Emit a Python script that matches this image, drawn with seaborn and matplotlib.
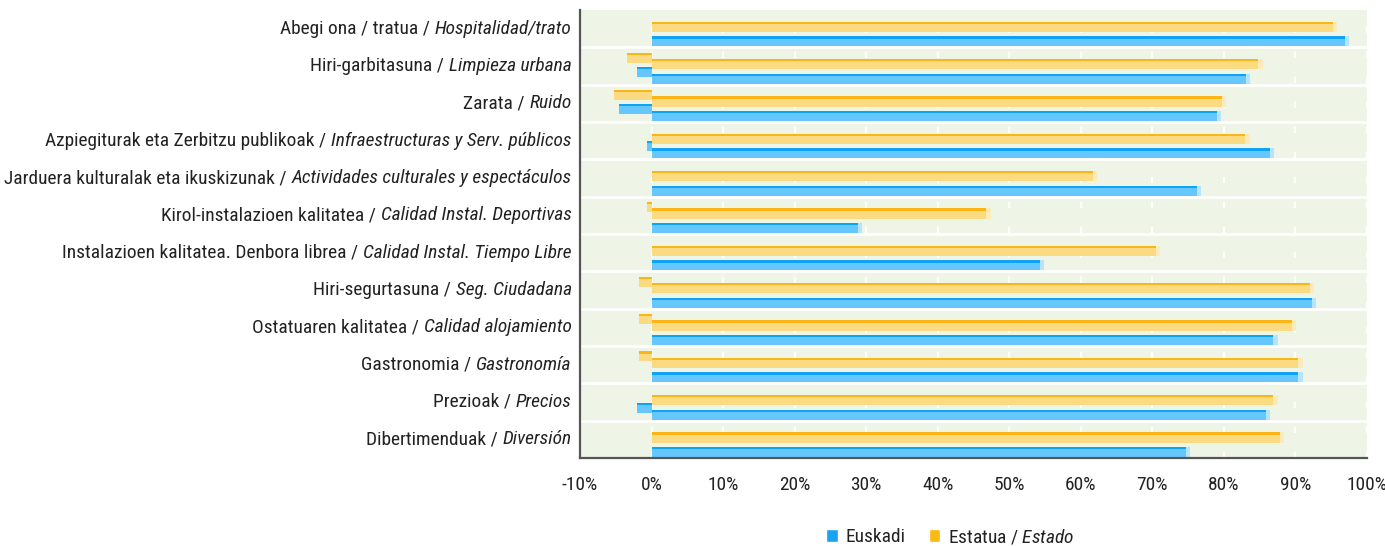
import matplotlib
matplotlib.use("Agg")
import matplotlib.pyplot as plt
import matplotlib.transforms as mtransforms
from matplotlib import font_manager
from matplotlib.patches import Rectangle, Patch
from matplotlib.colors import to_rgba
import pandas as pd
import seaborn as sns

# %% data (percentages)
cats_eu = ["Abegi ona / tratua /", "Hiri-garbitasuna /", "Zarata /",
           "Azpiegiturak eta Zerbitzu publikoak /",
           "Jarduera kulturalak eta ikuskizunak /",
           "Kirol-instalazioen kalitatea /",
           "Instalazioen kalitatea. Denbora librea /",
           "Hiri-segurtasuna /", "Ostatuaren kalitatea /", "Gastronomia /",
           "Prezioak /", "Dibertimenduak /"]
cats_es = ["Hospitalidad/trato", "Limpieza urbana", "Ruido",
           "Infraestructuras y Serv. públicos",
           "Actividades culturales y espectáculos",
           "Calidad Instal. Deportivas", "Calidad Instal. Tiempo Libre",
           "Seg. Ciudadana", "Calidad alojamiento", "Gastronomía",
           "Precios", "Diversión"]

euskadi_pos = [96.9, 83.1, 79.0, 86.4, 76.2, 28.8, 54.3, 92.3, 86.9, 90.4, 85.9, 74.7]
estado_pos = [95.2, 84.8, 79.7, 83.0, 61.7, 46.8, 70.5, 92.0, 89.5, 90.4, 86.9, 87.8]
euskadi_neg = [0, -2.0, -4.6, -0.6, 0, 0, 0, 0, 0, 0, -2.0, 0]
estado_neg = [0, -3.4, -5.3, 0, 0, -0.6, 0, -1.7, -1.7, -1.7, 0, 0]

xticks = list(range(-10, 101, 10))

# %% style
face = {"Euskadi": "#66C7FE", "Estado": "#FADB82"}
edge = {"Euskadi": "#0EA4F3", "Estado": "#FDB515"}
side = {"Euskadi": "#B5E4FF", "Estado": "#FCEBB8"}
legend_col = {"Euskadi": "#1AA3F0", "Estado": "#FBB914"}
txt = "#222222"

# pick a narrow font if one is there
font = "DejaVu Sans"
for cand in ["Roboto Condensed", "Liberation Sans Narrow", "DejaVu Sans Condensed",
             "Open Sans Condensed", "Noto Sans Condensed"]:
    try:
        font_manager.findfont(font_manager.FontProperties(family=cand),
                              fallback_to_default=False)
        font = cand
        break
    except ValueError:
        pass

sns.set_style("white")
plt.rcParams["font.family"] = [font, "DejaVu Sans"]
plt.rcParams["mathtext.fontset"] = "custom"
plt.rcParams["mathtext.rm"] = font
plt.rcParams["mathtext.it"] = font + ":italic"

fig = plt.figure(figsize=(13.85, 5.46), dpi=100)
ax = fig.add_axes([580 / 1385, 1 - 458 / 546, (1367 - 580) / 1385, 448 / 546])
ax.set_facecolor("#EFF5E6")
renderer = fig.canvas.get_renderer()

# font size so that the longest label is about 564 px wide, like the reference
probe = fig.text(0, 0, cats_eu[4] + " ", fontsize=10)
probe2 = fig.text(0, 0, cats_es[4], fontsize=10, style="italic")
wprobe = probe.get_window_extent(renderer).width + probe2.get_window_extent(renderer).width
probe.remove()
probe2.remove()
fs = min(14.5, 10 * 564 / wprobe)

n = len(cats_eu)
df_pos = pd.DataFrame({"cat": cats_eu * 2,
                       "series": ["Euskadi"] * n + ["Estado"] * n,
                       "value": euskadi_pos + estado_pos})
df_neg = pd.DataFrame({"cat": cats_eu * 2,
                       "series": ["Euskadi"] * n + ["Estado"] * n,
                       "value": euskadi_neg + estado_neg})

# negatives first (sit slightly higher)
sns.barplot(data=df_neg, y="cat", x="value", hue="series", order=cats_eu,
            hue_order=["Estado", "Euskadi"], palette=face, orient="h",
            width=0.74, gap=0.27, errorbar=None, legend=False, saturation=1,
            linewidth=0, ax=ax)
n_neg = len(ax.patches)
for p in ax.patches:
    p.set_y(p.get_y() - 0.035)

sns.barplot(data=df_pos, y="cat", x="value", hue="series", order=cats_eu,
            hue_order=["Estado", "Euskadi"], palette=face, orient="h",
            width=0.78, gap=0.3, errorbar=None, legend=False, saturation=1,
            linewidth=0, ax=ax)
for p in ax.patches[n_neg:]:
    p.set_y(p.get_y() + 0.145)

# darker top strip + light end face for the pseudo 3d look
bars = list(ax.patches)
for k, p in enumerate(bars):
    fc = p.get_facecolor()
    key = "Euskadi" if abs(fc[0] - to_rgba(face["Euskadi"])[0]) < 0.02 else "Estado"
    ax.add_patch(Rectangle((p.get_x(), p.get_y()), p.get_width(), 0.06,
                           facecolor=edge[key], lw=0, zorder=p.get_zorder() + 0.1))
    if k >= n_neg and p.get_width() > 0:
        ax.add_patch(Rectangle((p.get_x() + p.get_width(), p.get_y()), 0.6,
                               p.get_height(), facecolor=side[key], lw=0,
                               zorder=p.get_zorder() + 0.1))

# grid
ax.set_axisbelow(True)
ax.grid(axis="x", color="white", linestyle=(0, (3, 9)), lw=1.5)
ax.grid(axis="y", visible=False)
for i in range(n - 1):
    ax.axhline(i + 0.5, color="white", lw=2, zorder=0.5)

ax.set_xlim(-10, 100)
ax.set_ylim(n - 0.5, -0.5)
ax.set_xticks(xticks)
ax.set_xticklabels([f"{v}%" for v in xticks])
ax.tick_params(axis="x", labelsize=fs, colors="#555555", labelcolor=txt,
               length=5, width=1.2, direction="out", pad=8)
ax.set_yticks(range(n))
ax.set_yticklabels([""] * n)
ax.tick_params(axis="y", length=0)
ax.set_xlabel("")
ax.set_ylabel("")
for s in ["top", "right"]:
    ax.spines[s].set_visible(False)
for s in ["left", "bottom"]:
    ax.spines[s].set_color("#555555")
    ax.spines[s].set_linewidth(1.6)

# category labels: basque upright + spanish italic
trans = mtransforms.blended_transform_factory(ax.transAxes, ax.transData)
for i, (eu, es) in enumerate(zip(cats_eu, cats_es)):
    t = ax.text(-0.0105, i, es, transform=trans, ha="right", va="center",
                style="italic", fontsize=fs, color=txt)
    w = t.get_window_extent(renderer).width
    tr2 = mtransforms.offset_copy(trans, fig=fig, x=-w, y=0, units="dots")
    ax.text(-0.0105, i, eu + " ", transform=tr2, ha="right", va="center",
            fontsize=fs, color=txt)

# legend
handles = [Patch(facecolor=legend_col["Euskadi"]), Patch(facecolor=legend_col["Estado"])]
fig.legend(handles, ["Euskadi", "Estatua / $\\mathit{Estado}$"], loc="center",
           bbox_to_anchor=(0.686, 0.017), ncol=2, frameon=False,
           handlelength=0.6, handleheight=0.6, handletextpad=0.4,
           columnspacing=1.2, fontsize=fs, labelcolor=txt)

fig.savefig("out.png", dpi=100)
